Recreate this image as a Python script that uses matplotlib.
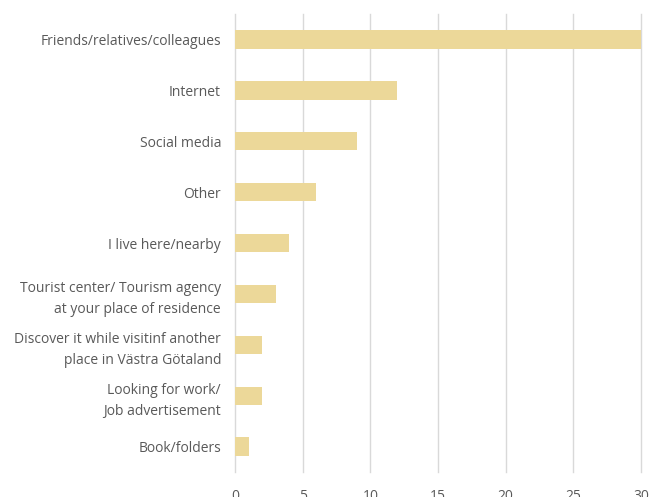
import matplotlib
matplotlib.use('Agg')
import matplotlib.pyplot as plt

categories = [
    'Friends/relatives/colleagues',
    'Internet',
    'Social media',
    'Other',
    'I live here/nearby',
    'Tourist center/ Tourism agency\nat your place of residence',
    'Discover it while visitinf another\nplace in Västra Götaland',
    'Looking for work/\nJob advertisement',
    'Book/folders',
]
values = [30, 12, 9, 6, 4, 3, 2, 2, 1]
xticks = [0, 5, 10, 15, 20, 25, 30]

plt.rcParams['font.family'] = ['Open Sans', 'DejaVu Sans']

fig = plt.figure(figsize=(6.5, 4.97), dpi=100)
ax = fig.add_axes([0.3615, 0.0503, 0.6245, 0.9215])

ypos = list(range(len(categories)))
ax.barh(ypos, values, height=0.36, color='#ECD899', zorder=3)

ax.set_xlim(0, 30)
ax.set_ylim(8.5, -0.5)
ax.set_xticks(xticks)
ax.set_yticks(ypos)
ax.set_yticklabels(categories, fontsize=10, color='#595959', linespacing=1.6)
ax.tick_params(axis='x', labelsize=10, labelcolor='#595959', length=0, pad=12)
ax.tick_params(axis='y', length=0, pad=10)

ax.grid(axis='x', color='#D9D9D9', linewidth=1, zorder=0)
for line in ax.get_xgridlines():
    line.set_clip_on(False)
for s in ax.spines.values():
    s.set_visible(False)

fig.savefig('out.png', dpi=100)
